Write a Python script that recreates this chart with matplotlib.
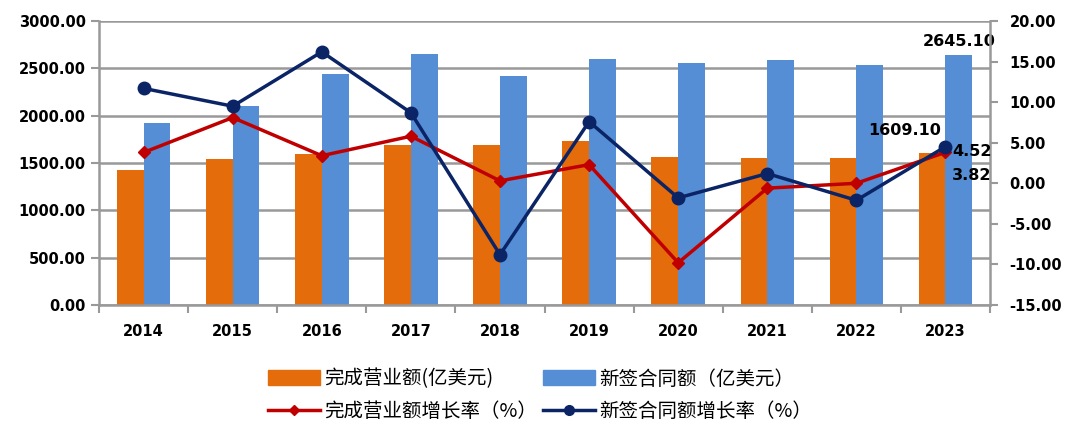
import matplotlib.pyplot as plt
import numpy as np
from matplotlib.lines import Line2D
from matplotlib.patches import Patch

plt.rcParams['font.family'] = ['DejaVu Sans', 'Noto Sans CJK SC']

years = ['2014', '2015', '2016', '2017', '2018', '2019', '2020', '2021', '2022', '2023']
revenue = [1424.9, 1540.7, 1594.2, 1685.9, 1690.4, 1729.0, 1559.4, 1549.4, 1549.9, 1609.1]
contracts = [1917.6, 2100.7, 2440.1, 2652.8, 2418.0, 2602.5, 2555.4, 2584.9, 2530.7, 2645.1]
revenue_growth = [3.8, 8.1, 3.4, 5.8, 0.3, 2.3, -9.8, -0.6, 0.0, 3.82]
contract_growth = [11.7, 9.5, 16.2, 8.7, -8.8, 7.6, -1.8, 1.2, -2.1, 4.52]

c_orange = '#E46C0A'
c_blue = '#558ED5'
c_red = '#C00000'
c_navy = '#0B2466'
c_axis = '#999999'

fig = plt.figure(figsize=(10.8, 4.38), dpi=100)
ax = fig.add_axes([0.0917, 0.3037, 0.8250, 0.6483])
ax2 = ax.twinx()

x = np.arange(len(years))
w = 0.3
ax.bar(x - w / 2, revenue, width=w, color=c_orange, zorder=2)
ax.bar(x + w / 2, contracts, width=w, color=c_blue, zorder=2)

ax2.plot(x, revenue_growth, color=c_red, lw=2.5, marker='D', ms=6, zorder=3)
ax2.plot(x, contract_growth, color=c_navy, lw=2.5, marker='o', ms=9, zorder=4)

ax.set_xlim(-0.5, len(years) - 0.5)
ax.set_ylim(0, 3000)
ax2.set_ylim(-15, 20)
ax.set_yticks(np.arange(0, 3001, 500))
ax2.set_yticks(np.arange(-15, 21, 5))
ax.set_yticklabels([f'{v:.2f}' for v in np.arange(0, 3001, 500)])
ax2.set_yticklabels([f'{v:.2f}' for v in np.arange(-15, 21, 5)])
ax.set_xticks(x)
ax.set_xticklabels(years)
ax.set_xticks(np.arange(-0.5, len(years), 1), minor=True)

ax.grid(axis='y', color=c_axis, lw=1.8, zorder=0)
ax.set_axisbelow(True)

for a in (ax, ax2):
    for s in a.spines.values():
        s.set_visible(False)
ax.spines['left'].set_visible(True)
ax.spines['bottom'].set_visible(True)
ax2.spines['right'].set_visible(True)
for s in (ax.spines['left'], ax.spines['bottom'], ax2.spines['right']):
    s.set_color(c_axis)
    s.set_linewidth(1.8)

ax.tick_params(axis='y', colors=c_axis, length=6, width=1.5, labelcolor='black', labelsize=10.5)
ax2.tick_params(axis='y', colors=c_axis, length=6, width=1.5, labelcolor='black', labelsize=10.5, pad=8)
ax.tick_params(axis='x', which='major', length=0, labelsize=10.5, pad=14)
ax.tick_params(axis='x', which='minor', length=6, width=1.5, colors=c_axis)
for lab in ax.get_yticklabels() + ax2.get_yticklabels() + ax.get_xticklabels():
    lab.set_fontweight('bold')

# data labels for 2023
ax.text(x[-1] + w / 2, contracts[-1] + 60, f'{contracts[-1]:.2f}', ha='center', va='bottom',
        fontsize=11.5, fontweight='bold')
ax.text(x[-1] - 0.05, revenue[-1] + 160, f'{revenue[-1]:.2f}', ha='right', va='bottom',
        fontsize=11.5, fontweight='bold')
ax2.text(x[-1] + 0.08, contract_growth[-1] - 0.6, f'{contract_growth[-1]:.2f}', ha='left', va='center',
         fontsize=11.5, fontweight='bold')
ax2.text(x[-1] + 0.07, revenue_growth[-1] - 2.8, f'{revenue_growth[-1]:.2f}', ha='left', va='center',
         fontsize=11.5, fontweight='bold')

handles = [
    Patch(color=c_orange, label='完成营业额(亿美元)'),
    Line2D([], [], color=c_red, lw=2.5, marker='D', ms=5, label='完成营业额增长率（%）'),
    Patch(color=c_blue, label='新签合同额（亿美元）'),
    Line2D([], [], color=c_navy, lw=2.5, marker='o', ms=7, label='新签合同额增长率（%）'),
]
fig.legend(handles=handles, ncol=2, loc='lower center', bbox_to_anchor=(0.5, -0.004),
           frameon=False, prop={'family': ['Noto Sans CJK SC', 'DejaVu Sans'], 'size': 14},
           handlelength=2.7, handleheight=0.8, columnspacing=0.3, handletextpad=0.2,
           labelspacing=0.6)

fig.savefig('out.png', dpi=100)
